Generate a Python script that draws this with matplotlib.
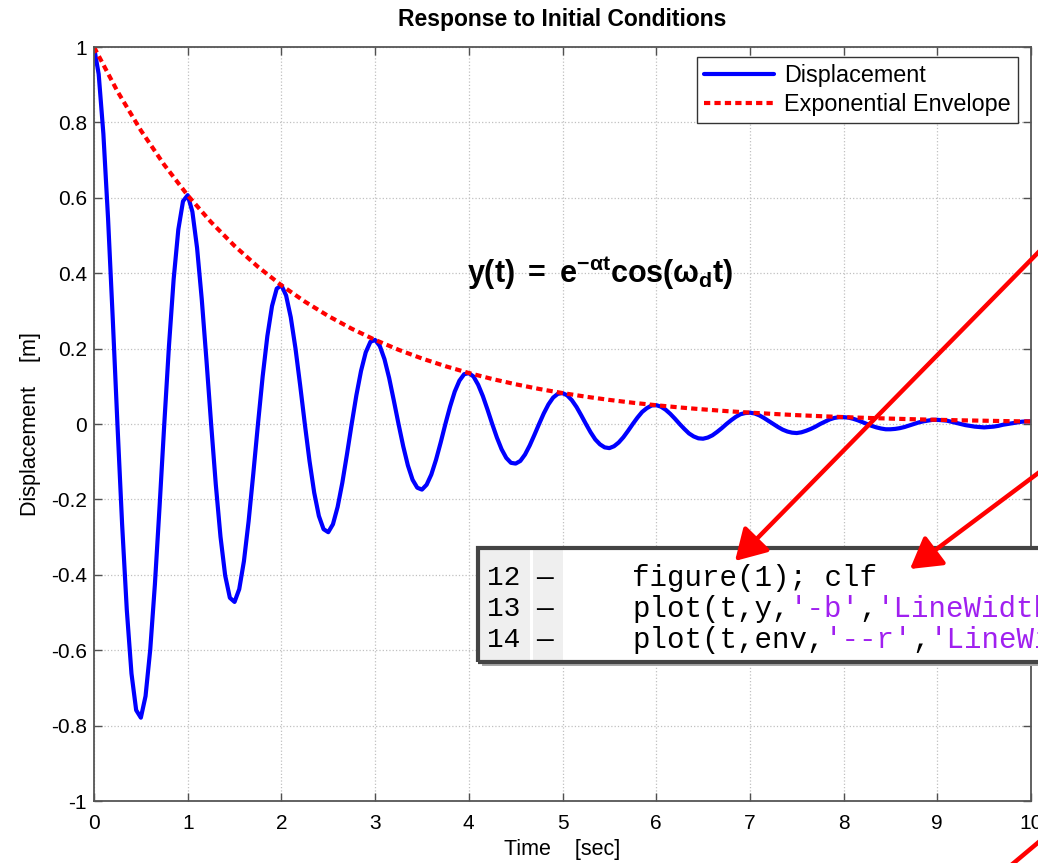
import numpy as np
import matplotlib
matplotlib.use("Agg")
import matplotlib.pyplot as plt
from matplotlib.patches import Rectangle, FancyArrowPatch
from matplotlib.lines import Line2D

plt.rcParams['font.family'] = ['Liberation Sans', 'DejaVu Sans']
plt.rcParams['mathtext.fontset'] = 'custom'
plt.rcParams['mathtext.rm'] = 'Liberation Sans'
plt.rcParams['mathtext.bf'] = 'Liberation Sans:bold'
plt.rcParams['mathtext.it'] = 'Liberation Sans:italic'

# --- data ---
# displacement sampled every 0.05 s, one row per second (t = 0 ... 9.95), then t = 10
displacement = [
    1.000, 0.928, 0.770, 0.545, 0.280, 0.000, -0.266, -0.493, -0.662, -0.759,
    -0.779, -0.722, -0.599, -0.425, -0.218, 0.000, 0.207, 0.384, 0.516, 0.591,
    0.607, 0.563, 0.467, 0.331, 0.170, 0.000, -0.161, -0.299, -0.402, -0.461,
    -0.472, -0.438, -0.364, -0.258, -0.132, 0.000, 0.126, 0.233, 0.313, 0.359,
    0.368, 0.341, 0.283, 0.201, 0.103, 0.000, -0.098, -0.182, -0.244, -0.279,
    -0.287, -0.266, -0.220, -0.156, -0.080, 0.000, 0.076, 0.141, 0.190, 0.218,
    0.223, 0.207, 0.172, 0.122, 0.062, 0.000, -0.059, -0.110, -0.148, -0.169,
    -0.174, -0.161, -0.134, -0.095, -0.049, 0.000, 0.046, 0.086, 0.115, 0.132,
    0.135, 0.126, 0.104, 0.074, 0.038, 0.000, -0.036, -0.067, -0.090, -0.103,
    -0.105, -0.098, -0.081, -0.057, -0.029, 0.000, 0.028, 0.052, 0.070, 0.080,
    0.082, 0.076, 0.063, 0.045, 0.023, 0.000, -0.022, -0.041, -0.054, -0.062,
    -0.064, -0.059, -0.049, -0.035, -0.018, 0.000, 0.017, 0.032, 0.042, 0.049,
    0.050, 0.046, 0.038, 0.027, 0.014, 0.000, -0.013, -0.025, -0.033, -0.038,
    -0.039, -0.036, -0.030, -0.021, -0.011, 0.000, 0.010, 0.019, 0.026, 0.029,
    0.030, 0.028, 0.023, 0.016, 0.008, 0.000, -0.008, -0.015, -0.020, -0.023,
    -0.024, -0.022, -0.018, -0.013, -0.007, 0.000, 0.006, 0.012, 0.016, 0.018,
    0.018, 0.017, 0.014, 0.010, 0.005, 0.000, -0.005, -0.009, -0.012, -0.014,
    -0.014, -0.013, -0.011, -0.008, -0.004, 0.000, 0.004, 0.007, 0.009, 0.011,
    0.011, 0.010, 0.009, 0.006, 0.003, 0.000, -0.003, -0.005, -0.007, -0.008,
    -0.009, -0.008, -0.007, -0.005, -0.002, 0.000, 0.002, 0.004, 0.006, 0.007,
    0.007,
]
time = np.linspace(0, 10, len(displacement))

# envelope sampled every 0.25 s
envelope = [
    1.000, 0.8825, 0.7788, 0.6873, 0.6065, 0.5353, 0.4724, 0.4169, 0.3679,
    0.3247, 0.2865, 0.2528, 0.2231, 0.1969, 0.1738, 0.1534, 0.1353, 0.1194,
    0.1054, 0.0930, 0.0821, 0.0724, 0.0639, 0.0564, 0.0498, 0.0439, 0.0388,
    0.0342, 0.0302, 0.0267, 0.0235, 0.0208, 0.0183, 0.0162, 0.0143, 0.0126,
    0.0111, 0.0098, 0.0087, 0.0076, 0.0067,
]
env_time = np.linspace(0, 10, len(envelope))

x_ticks = list(range(11))
y_ticks = [-1, -0.8, -0.6, -0.4, -0.2, 0, 0.2, 0.4, 0.6, 0.8, 1]
y_tick_labels = ['-1', '-0.8', '-0.6', '-0.4', '-0.2', '0', '0.2', '0.4', '0.6', '0.8', '1']

code_lines = [
    ('12', [("figure(1); clf", 'black')]),
    ('13', [("plot(t,y,", 'black'), ("'-b'", '#a020f0'), (",", 'black'),
            ("'LineWidth'", '#a020f0'), (",3);", 'black')]),
    ('14', [("plot(t,env,", 'black'), ("'--r'", '#a020f0'), (",", 'black'),
            ("'LineWidth'", '#a020f0'), (",3);", 'black')]),
]

W, H = 1038, 863
fig = plt.figure(figsize=(W / 100, H / 100), dpi=100)

def fx(px):
    return px / W

def fy(py):
    return 1 - py / H

ax = fig.add_axes([fx(94), fy(801), (1031 - 94) / W, (801 - 47) / H])

ax.plot(time, displacement, color='#0000ff', lw=3, label='Displacement',
        solid_joinstyle='round', solid_capstyle='round')
ax.plot(env_time, envelope, color='#ff0000', lw=3, linestyle=(0, (1.5, 1)),
        label='Exponential Envelope')

ax.set_xlim(0, 10)
ax.set_ylim(-1, 1)
ax.set_xticks(x_ticks)
ax.set_yticks(y_ticks)
ax.set_yticklabels(y_tick_labels)
ax.tick_params(direction='in', length=6, width=1, top=True, right=True,
               color='#505050', labelsize=15)
ax.tick_params(axis='x', pad=9)
ax.tick_params(axis='y', pad=5)
ax.grid(True, linestyle=':', color='#c0c0c0', lw=0.9)
for sp in ax.spines.values():
    sp.set_color('#555555')
    sp.set_linewidth(1.3)

ax.set_title('Response to Initial Conditions', fontsize=16.5, fontweight='bold', pad=15)
ax.set_xlabel('Time    [sec]', fontsize=15.5, labelpad=5)
ax.set_ylabel('Displacement    [m]', fontsize=15.5, labelpad=7)

leg = ax.legend(loc='upper right', bbox_to_anchor=(1 - 13 / 937, 1 - 10 / 754),
                borderaxespad=0, fontsize=16.8, fancybox=False, framealpha=1,
                edgecolor='#333333', handlelength=3.0, borderpad=0.3,
                labelspacing=0.25, handletextpad=0.45)
leg.get_frame().set_linewidth(1.0)

ax.text(3.98, 0.40, r'$\mathbf{y(t)\ =\ e^{-\alpha t}cos(\omega_d t)}$',
        fontsize=22, ha='left', va='center')

# --- code snippet overlay ---
box_top, box_bot, box_left, box_right = 548, 662, 478, 1070
fig.add_artist(Rectangle((fx(box_left + 4), fy(box_bot + 4)), (box_right - box_left) / W,
                         (box_bot - box_top) / H, transform=fig.transFigure,
                         facecolor='#a8a8a8', edgecolor='none', zorder=9))
fig.add_artist(Rectangle((fx(box_left), fy(box_bot)), (box_right - box_left) / W,
                         (box_bot - box_top) / H, transform=fig.transFigure,
                         facecolor='white', edgecolor='none', zorder=10))
fig.add_artist(Rectangle((fx(box_left), fy(box_bot)), (530 - box_left) / W,
                         (box_bot - box_top) / H, transform=fig.transFigure,
                         facecolor='#efefef', edgecolor='none', zorder=11))
fig.add_artist(Rectangle((fx(533), fy(box_bot)), (563 - 533) / W,
                         (box_bot - box_top) / H, transform=fig.transFigure,
                         facecolor='#efefef', edgecolor='none', zorder=11))
fig.add_artist(Rectangle((fx(box_left), fy(box_bot)), (box_right - box_left) / W,
                         (box_bot - box_top) / H, transform=fig.transFigure,
                         facecolor='none', edgecolor='#444444', lw=3, zorder=13))

code_size = 21
pitch = 0.6 * code_size * 100 / 72
row_y = [578, 609, 640]
for (num, segs), ry in zip(code_lines, row_y):
    fig.text(fx(487), fy(ry), num, fontfamily='Liberation Mono', fontsize=code_size - 1,
             va='center', ha='left', zorder=12)
    fig.text(fx(536), fy(ry), '\u2014', fontfamily='Liberation Mono', fontsize=code_size - 1,
             va='center', ha='left', zorder=12)
    col = 0
    for s, c in segs:
        fig.text(fx(632 + col * pitch), fy(ry), s, fontfamily='Liberation Mono',
                 fontsize=code_size, color=c, va='center', ha='left', zorder=12)
        col += len(s)

# --- red arrows ---
arrows = [((1075, 215), (735, 561)), ((1085, 438), (910, 569))]
for (x0, y0), (x1, y1) in arrows:
    fig.add_artist(FancyArrowPatch((fx(x0), fy(y0)), (fx(x1), fy(y1)),
                                   transform=fig.transFigure,
                                   arrowstyle='-|>,head_length=0.85,head_width=0.5',
                                   mutation_scale=22, color='#ff0000', lw=3.2,
                                   shrinkA=0, shrinkB=0, zorder=20))
fig.add_artist(Line2D([fx(1003), fx(1065)], [fy(872), fy(820)], transform=fig.transFigure,
                      color='#ff0000', lw=3.2, zorder=20))

fig.savefig('out.png', dpi=100)
